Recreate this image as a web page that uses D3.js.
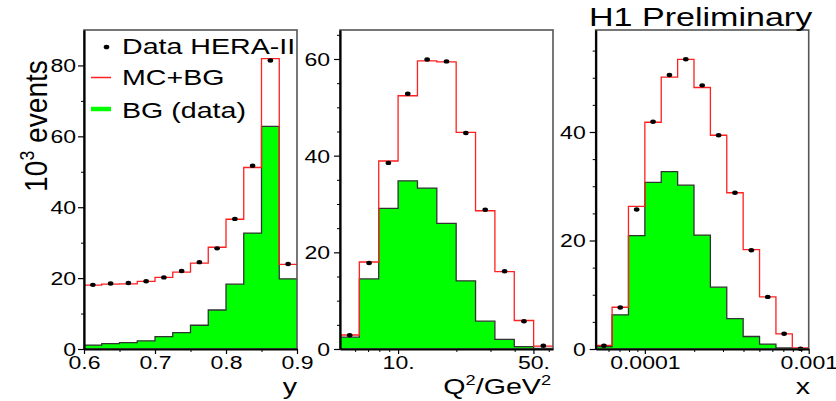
<!DOCTYPE html>
<html>
<head>
<meta charset="utf-8">
<script src="https://cdnjs.cloudflare.com/ajax/libs/d3/7.8.5/d3.min.js"></script>
<style>
body { margin: 0; background: #fff; }
svg { display: block; font-family: "Liberation Sans", Arial, sans-serif; }
</style>
</head>
<body>
<div id="chart"></div>
<script>
// bin edges
var yEdges = [0.6, 0.625, 0.65, 0.675, 0.7, 0.725, 0.75, 0.775, 0.8, 0.825, 0.85, 0.875, 0.9];
var q2Edges = [5.012, 6.310, 7.943, 10, 12.59, 15.85, 19.95, 25.12, 31.62, 39.81, 50.12, 63.10];
var xEdges = [5.012e-5, 6.310e-5, 7.943e-5, 1e-4, 1.259e-4, 1.585e-4, 1.995e-4, 2.512e-4,
              3.162e-4, 3.981e-4, 5.012e-4, 6.310e-4, 7.943e-4, 1e-3];

// 10^3 events per bin
var yMc   = [18.0, 18.3, 18.4, 19.1, 20.2, 21.7, 24.2, 28.7, 36.6, 51.2, 81.9, 23.9];
var yData = [18.1, 18.5, 18.6, 19.1, 20.2, 22.0, 24.5, 28.4, 36.7, 51.7, 81.4, 24.0];
var yBg   = [1.1, 1.5, 1.8, 2.3, 3.5, 4.6, 6.7, 11.0, 18.3, 32.7, 62.8, 19.8];

var q2Mc   = [2.9, 18.0, 38.9, 52.4, 59.6, 59.4, 44.8, 28.6, 16.0, 5.9, 0.6];
var q2Data = [2.85, 17.8, 38.5, 52.8, 59.9, 59.5, 44.7, 28.8, 16.1, 5.75, 0.66];
var q2Bg   = [2.45, 14.5, 29.1, 34.8, 33.3, 26.0, 14.1, 5.75, 2.0, 0.5, 0.1];

var xMc   = [0.65, 7.7, 26.3, 41.8, 50.1, 53.4, 48.2, 39.4, 28.8, 18.3, 9.6, 2.8, 0.2];
var xData = [0.6, 7.65, 25.7, 41.9, 50.5, 53.4, 48.6, 39.4, 28.8, 18.2, 9.6, 2.8, 0.05];
var xBg   = [0.45, 6.3, 20.9, 30.7, 32.7, 30.2, 21.0, 11.4, 5.6, 2.3, 0.9, 0.2, 0.05];

// tick values and labels
var yMajorX = [0.6, 0.7, 0.8, 0.9], yMajorXLabels = ["0.6", "0.7", "0.8", "0.9"];
var yMinorX = [0.65, 0.75, 0.85];
var q2MajorX = [10, 50], q2MajorXLabels = ["10.", "50."];
var q2MinorX = [6, 7, 8, 9, 20, 30, 40, 60];
var xMajorX = [1e-4, 1e-3], xMajorXLabels = ["0.0001", "0.001"];
var xMinorX = [6e-5, 7e-5, 8e-5, 9e-5, 2e-4, 3e-4, 4e-4, 5e-4, 6e-4, 7e-4, 8e-4, 9e-4];

var legendLabels = ["Data HERA-II", "MC+BG", "BG (data)"];

var TOP = 30, BOTTOM = 349, SX = 1.28;

var svg = d3.select("#chart").append("svg")
    .attr("width", 836)
    .attr("height", 401);

function drawPanel(p) {
    var x = (p.log ? d3.scaleLog() : d3.scaleLinear())
        .domain([p.edges[0], p.edges[p.edges.length - 1]])
        .range([p.left, p.right]);
    var y = d3.scaleLinear().domain([0, p.yMax]).range([BOTTOM, TOP]);
    var g = svg.append("g");

    // step points: each bin value at its low edge, last one repeated at top edge
    function steps(vals) {
        var pts = vals.map(function(v, i){ return [p.edges[i], v]; });
        pts.push([p.edges[vals.length], vals[vals.length - 1]]);
        return pts;
    }

    g.append("path")
        .datum(steps(p.bg))
        .attr("d", d3.area().curve(d3.curveStepAfter)
            .x(function(d){ return x(d[0]); })
            .y0(y(0))
            .y1(function(d){ return y(d[1]); }))
        .attr("fill", "#00ff00");

    g.append("path")
        .datum(steps(p.bg))
        .attr("d", d3.line().curve(d3.curveStepAfter)
            .x(function(d){ return x(d[0]); })
            .y(function(d){ return y(d[1]); }))
        .attr("fill", "none")
        .attr("stroke", "#333")
        .attr("stroke-width", 1.3);

    g.append("path")
        .datum(steps(p.mc))
        .attr("d", d3.line().curve(d3.curveStepAfter)
            .x(function(d){ return x(d[0]); })
            .y(function(d){ return y(d[1]); }))
        .attr("fill", "none")
        .attr("stroke", "#ff2020")
        .attr("stroke-width", 1.3);

    g.selectAll("ellipse.pt")
        .data(p.data)
        .enter().append("ellipse")
        .attr("class", "pt")
        .attr("cx", function(d, i){
            var a = p.edges[i], b = p.edges[i + 1];
            return x(p.log ? Math.sqrt(a * b) : (a + b) / 2);
        })
        .attr("cy", function(d){ return y(d); })
        .attr("rx", 2.8)
        .attr("ry", 2.2)
        .attr("fill", "#000");

    // frame top/right
    g.append("rect")
        .attr("x", p.left).attr("y", TOP)
        .attr("width", p.right - p.left).attr("height", BOTTOM - TOP)
        .attr("fill", "none")
        .attr("stroke", "#555")
        .attr("stroke-width", 1.6);

    // minor ticks
    g.append("g")
        .attr("transform", "translate(" + p.left + ",0)")
        .call(d3.axisLeft(y).tickValues(p.minorY).tickSize(3).tickFormat(""))
        .call(function(a){ a.select(".domain").remove(); });
    g.append("g")
        .attr("transform", "translate(0," + BOTTOM + ")")
        .call(d3.axisBottom(x).tickValues(p.minorX).tickSize(3).tickFormat(""))
        .call(function(a){ a.select(".domain").remove(); });

    // major y
    var ya = g.append("g")
        .attr("transform", "translate(" + p.left + ",0)")
        .call(d3.axisLeft(y).tickValues(p.majorY).tickSize(6).tickSizeOuter(0).tickFormat(d3.format("d")));
    ya.selectAll("text")
        .attr("x", -p.labelGap / SX)
        .attr("dy", 6.5)
        .attr("font-size", 18)
        .attr("font-family", "Liberation Sans, Arial, sans-serif")
        .attr("fill", "#000")
        .attr("transform", "scale(" + SX + ",1)");

    // major x
    var xa = g.append("g")
        .attr("transform", "translate(0," + BOTTOM + ")")
        .call(d3.axisBottom(x).tickValues(p.majorX).tickSize(5).tickSizeOuter(0)
            .tickFormat(function(d, i){ return p.xLabels[i]; }));
    xa.selectAll("text")
        .attr("y", 20)
        .attr("dy", 0)
        .attr("font-size", 18)
        .attr("font-family", "Liberation Sans, Arial, sans-serif")
        .attr("fill", "#000")
        .attr("transform", "scale(" + SX + ",1)");

    [ya, xa].forEach(function(a){
        a.select(".domain").attr("stroke", "#000").attr("stroke-width", 2.2);
        a.selectAll(".tick line").attr("stroke", "#000").attr("stroke-width", 1.2);
    });

    // axis title
    var t = svg.append("text")
        .attr("transform", "translate(" + p.titleX + ",394) scale(1.3,1)")
        .attr("text-anchor", "end")
        .attr("font-size", 22);
    p.title(t);
}

drawPanel({
    edges: yEdges, log: false, left: 84, right: 297, yMax: 90,
    mc: yMc, data: yData, bg: yBg,
    majorY: [0, 20, 40, 60, 80], minorY: [10, 30, 50, 70],
    majorX: yMajorX, xLabels: yMajorXLabels, minorX: yMinorX,
    labelGap: 8, titleX: 297,
    title: function(t){ t.text("y"); }
});

drawPanel({
    edges: q2Edges, log: true, left: 340, right: 553, yMax: 66,
    mc: q2Mc, data: q2Data, bg: q2Bg,
    majorY: [0, 20, 40, 60], minorY: [5, 10, 15, 25, 30, 35, 45, 50, 55, 65],
    majorX: q2MajorX, xLabels: q2MajorXLabels, minorX: q2MinorX,
    labelGap: 10, titleX: 551,
    title: function(t){
        t.append("tspan").text("Q");
        t.append("tspan").attr("font-size", 14).attr("dy", -9).text("2");
        t.append("tspan").attr("dy", 9).text("/GeV");
        t.append("tspan").attr("font-size", 14).attr("dy", -9).text("2");
    }
});

drawPanel({
    edges: xEdges, log: true, left: 595.7, right: 808.7, yMax: 58.8,
    mc: xMc, data: xData, bg: xBg,
    majorY: [0, 20, 40], minorY: [5, 10, 15, 25, 30, 35, 45, 50, 55],
    majorX: xMajorX, xLabels: xMajorXLabels, minorX: xMinorX,
    labelGap: 10, titleX: 810,
    title: function(t){ t.text("x"); }
});

// legend
var leg = svg.append("g");
leg.append("ellipse").attr("cx", 106.5).attr("cy", 47).attr("rx", 2.8).attr("ry", 2.3).attr("fill", "#000");
leg.append("line").attr("x1", 91).attr("x2", 111).attr("y1", 77.5).attr("y2", 77.5)
    .attr("stroke", "#ff2020").attr("stroke-width", 1.5);
leg.append("line").attr("x1", 91).attr("x2", 111).attr("y1", 109).attr("y2", 109)
    .attr("stroke", "#00ff00").attr("stroke-width", 4.5);
[54, 85, 117.5].forEach(function(by, i){
    leg.append("text")
        .attr("transform", "translate(122," + by + ") scale(1.3,1)")
        .attr("font-size", 22)
        .text(legendLabels[i]);
});

// header
svg.append("text")
    .attr("transform", "translate(589,26) scale(1.31,1)")
    .attr("font-size", 26)
    .text("H1 Preliminary");

// y axis label
var yl = svg.append("text")
    .attr("transform", "translate(47,126) rotate(-90) scale(0.88,1)")
    .attr("text-anchor", "middle")
    .attr("font-size", 32);
yl.append("tspan").text("10");
yl.append("tspan").attr("font-size", 20).attr("dy", -13).text("3");
yl.append("tspan").attr("dy", 13).text(" events");
</script>
</body>
</html>
